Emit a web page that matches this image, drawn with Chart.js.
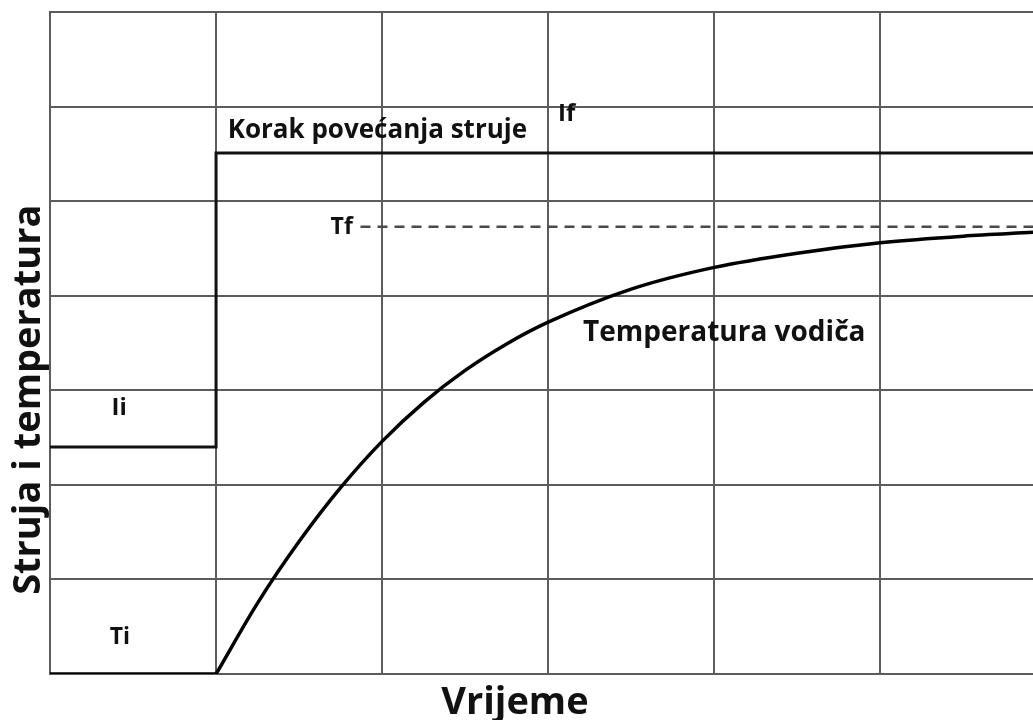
<!DOCTYPE html>
<html>
<head>
<meta charset="utf-8">
<script src="https://cdn.jsdelivr.net/npm/chart.js@4.4.1/dist/chart.umd.min.js"></script>
<style>
  html, body { margin: 0; padding: 0; background: #ffffff; }
  #wrap { width: 1033px; height: 720px; position: relative; }
</style>
</head>
<body>
<div id="wrap"><canvas id="c"></canvas></div>
<script>
// Step in current: x positions and values (grid units)
const currentX = [0, 1, 1, 5.92];
const currentY = [2.4, 2.4, 5.51, 5.51];

// Conductor temperature before the step (flat at Ti)
const tempFlatX = [0, 1];
const tempFlatY = [0, 0];

// Conductor temperature after the step
const tempX = [1.0, 1.25, 1.5, 1.75, 2.0, 2.25, 2.5, 2.75, 3.0, 3.5, 4.0, 4.5, 5.0, 5.5, 5.92];
const tempY = [0.0, 0.75, 1.40, 1.97, 2.46, 2.87, 3.21, 3.49, 3.72, 4.07, 4.30, 4.45, 4.56, 4.63, 4.67];

// Final temperature Tf (dashed)
const tfX = [1.87, 5.92];
const tfY = [4.73, 4.73];

// Text labels
const labelTexts = ['Korak povećanja struje', 'If', 'Tf', 'Temperatura vodiča', 'Ii', 'Ti'];
const labelX = [1.07, 3.06, 1.69, 3.21, 0.37, 0.36];
const labelY = [5.75, 5.92, 4.72, 3.61, 2.81, 0.39];
const labelSize = [26, 24, 23, 28, 24, 23];

const xTitle = 'Vrijeme';
const yTitle = 'Struja i temperatura';

const toPts = (xs, ys) => xs.map((x, i) => ({ x: x, y: ys[i] }));

const textPlugin = {
  id: 'texts',
  afterDatasetsDraw(chart) {
    const ctx = chart.ctx;
    const xs = chart.scales.x, ys = chart.scales.y;
    ctx.save();
    ctx.fillStyle = '#111111';
    ctx.textBaseline = 'middle';
    ctx.textAlign = 'left';
    labelTexts.forEach((t, i) => {
      ctx.font = 'bold ' + labelSize[i] + 'px "Open Sans"';
      ctx.fillText(t, xs.getPixelForValue(labelX[i]), ys.getPixelForValue(labelY[i]));
    });
    ctx.font = 'bold 38px "Open Sans"';
    ctx.textAlign = 'center';
    ctx.fillText(xTitle, xs.getPixelForValue(2.8), chart.chartArea.bottom + 29);
    ctx.translate(29, ys.getPixelForValue(2.9));
    ctx.rotate(-Math.PI / 2);
    ctx.fillText(yTitle, 0, 0);
    ctx.restore();
  }
};

const gridColor = '#5c5c5c';

new Chart(document.getElementById('c'), {
  type: 'line',
  data: {
    datasets: [
      {
        data: toPts(currentX, currentY),
        borderColor: '#111111',
        borderWidth: 3,
        pointRadius: 0,
        borderJoinStyle: 'miter',
        tension: 0,
        fill: false
      },
      {
        data: toPts(tempFlatX, tempFlatY),
        borderColor: '#000000',
        borderWidth: 3.5,
        pointRadius: 0,
        tension: 0,
        fill: false
      },
      {
        data: toPts(tempX, tempY),
        borderColor: '#000000',
        borderWidth: 3.5,
        pointRadius: 0,
        cubicInterpolationMode: 'monotone',
        borderJoinStyle: 'round',
        fill: false
      },
      {
        data: toPts(tfX, tfY),
        borderColor: '#4a4a4a',
        borderWidth: 2.5,
        borderDash: [10, 7],
        pointRadius: 0,
        tension: 0,
        fill: false
      }
    ]
  },
  options: {
    responsive: true,
    maintainAspectRatio: false,
    animation: false,
    layout: { padding: { top: 12, right: 0, left: 0, bottom: 0 } },
    plugins: {
      legend: { display: false },
      tooltip: { enabled: false }
    },
    scales: {
      x: {
        type: 'linear',
        min: 0,
        max: 5.92,
        ticks: { display: false, stepSize: 1 },
        afterBuildTicks: (s) => { s.ticks = s.ticks.filter(t => Number.isInteger(t.value)); },
        afterFit: (s) => { s.height = 46; },
        grid: { color: gridColor, lineWidth: 2, drawTicks: false },
        border: { display: true, color: gridColor, width: 2 }
      },
      y: {
        type: 'linear',
        min: 0,
        max: 7,
        ticks: { display: false, stepSize: 1 },
        afterFit: (s) => { s.width = 50; },
        grid: { color: gridColor, lineWidth: 2, drawTicks: false },
        border: { display: true, color: gridColor, width: 2 }
      }
    }
  },
  plugins: [textPlugin]
});
</script>
</body>
</html>
